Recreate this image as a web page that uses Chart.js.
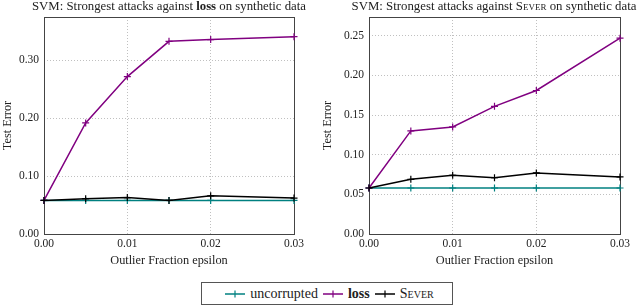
<!DOCTYPE html>
<html>
<head>
<meta charset="utf-8">
<script src="https://cdn.jsdelivr.net/npm/chart.js@4"></script>
<style>
  html, body { margin: 0; padding: 0; background: #fff; }
  body { width: 640px; height: 307px; position: relative; overflow: hidden; font-family: "Liberation Serif", "DejaVu Serif", serif; color: #222; }
  .wrap { position: absolute; top: 0; width: 320px; height: 272px; }
  .title { position: absolute; top: 0px; text-align: center; font-size: 12.8px; line-height: 12px; white-space: nowrap; transform: translateX(-50%); }
  .sc { font-variant: small-caps; }
  #legend { position: absolute; left: 201px; top: 282px; width: 252px; height: 23px; border: 1px solid #555; box-sizing: border-box; display: flex; align-items: center; justify-content: center; font-size: 14px; white-space: nowrap; }
  .item { display: flex; align-items: center; }
  .sw { display: block; margin: 0 5px 0 5px; }
</style>
</head>
<body>
<div class="wrap" style="left:0">
  <div class="title" style="left:169px">SVM: Strongest attacks against <b>loss</b> on synthetic data</div>
  <canvas id="c1" width="320" height="272"></canvas>
</div>
<div class="wrap" style="left:320px">
  <div class="title" style="left:174px">SVM: Strongest attacks against <span class="sc">Sever</span> on synthetic data</div>
  <canvas id="c2" width="320" height="272"></canvas>
</div>
<div id="legend"></div>
<script>
// ---- data ----
const epsilon = [0, 0.005, 0.01, 0.015, 0.02, 0.03];
const xTicks = [0, 0.01, 0.02, 0.03];

// left: attacks against loss
const lossAtk_uncorrupted = [0.058, 0.058, 0.058, 0.058, 0.058, 0.058];
const lossAtk_loss        = [0.058, 0.192, 0.272, 0.333, 0.336, 0.341];
const lossAtk_sever       = [0.058, 0.061, 0.063, 0.058, 0.066, 0.062];
const leftYTicks = [0, 0.1, 0.2, 0.3];
const leftYMax = 0.375;

// right: attacks against Sever
const severAtk_uncorrupted = [0.058, 0.058, 0.058, 0.058, 0.058, 0.058];
const severAtk_loss        = [0.058, 0.130, 0.135, 0.161, 0.181, 0.247];
const severAtk_sever       = [0.058, 0.069, 0.074, 0.071, 0.077, 0.072];
const rightYTicks = [0, 0.05, 0.1, 0.15, 0.2, 0.25];
const rightYMax = 0.2737;

const seriesNames = ['uncorrupted', 'loss', 'Sever'];
const seriesColors = ['#008080', '#800080', '#000000'];

// ---- helpers ----
const FONT = "'Liberation Serif', 'DejaVu Serif', serif";
function pts(ys) { return epsilon.map((x, i) => ({x: x, y: ys[i]})); }

const framePlugin = {
  id: 'frame',
  beforeDatasetsDraw(chart) {
    const a = chart.chartArea, ctx = chart.ctx;
    ctx.save();
    ctx.strokeStyle = '#444';
    ctx.lineWidth = 1;
    ctx.strokeRect(Math.round(a.left) + 0.5, Math.round(a.top) + 0.5, Math.round(a.right - a.left), Math.round(a.bottom - a.top));
    ctx.restore();
  }
};

function makeChart(id, series, yTicks, yMax, yWidth, padRight) {
  const datasets = series.map((ys, i) => ({
    label: seriesNames[i],
    data: pts(ys),
    borderColor: seriesColors[i],
    backgroundColor: seriesColors[i],
    borderWidth: 1.5,
    pointStyle: 'cross',
    pointRadius: 3.5,
    pointBorderWidth: 1.2,
    pointHoverRadius: 3.5,
    tension: 0,
    clip: false,
    order: 3 - i
  }));
  const gridOpts = { color: '#b0b0b0', lineWidth: 0.8, drawTicks: false };
  const borderOpts = { display: false, dash: [1, 2] };
  return new Chart(document.getElementById(id), {
    type: 'line',
    data: { datasets },
    plugins: [framePlugin],
    options: {
      responsive: false,
      animation: false,
      events: [],
      layout: { padding: { top: 17, right: padRight, bottom: 0, left: 0 } },
      plugins: { legend: { display: false }, tooltip: { enabled: false } },
      scales: {
        x: {
          type: 'linear', min: 0, max: 0.03,
          afterBuildTicks: s => { s.ticks = xTicks.map(v => ({value: v})); },
          afterFit: s => { s.height = 38; },
          ticks: { padding: 3, color: '#222', font: { family: FONT, size: 11.5 }, maxRotation: 0,
                   callback: v => v.toFixed(2) },
          grid: gridOpts,
          border: borderOpts,
          title: { display: true, text: 'Outlier Fraction epsilon', color: '#222',
                   font: { family: FONT, size: 12.3 }, padding: { top: 0, bottom: 4 } }
        },
        y: {
          type: 'linear', min: 0, max: yMax,
          afterBuildTicks: s => { s.ticks = yTicks.map(v => ({value: v})); },
          afterFit: s => { s.width = yWidth; },
          ticks: { padding: 5, color: '#222', font: { family: FONT, size: 11.5 },
                   callback: v => v.toFixed(2) },
          grid: gridOpts,
          border: borderOpts,
          title: { display: true, text: 'Test Error', color: '#222',
                   font: { family: FONT, size: 12.3 }, padding: { top: 0, bottom: 0 } }
        }
      }
    }
  });
}

makeChart('c1', [lossAtk_uncorrupted, lossAtk_loss, lossAtk_sever], leftYTicks, leftYMax, 44, 26);
makeChart('c2', [severAtk_uncorrupted, severAtk_loss, severAtk_sever], rightYTicks, rightYMax, 49, 20);

// ---- legend ----
const legend = document.getElementById('legend');
const labelsHtml = ['uncorrupted', '<b>loss</b>', '<span class="sc">Sever</span>'];
seriesNames.forEach((n, i) => {
  const it = document.createElement('span');
  it.className = 'item';
  const c = seriesColors[i];
  it.innerHTML = `<svg class="sw" width="20" height="10" viewBox="0 0 20 10"><line x1="0" y1="5" x2="20" y2="5" stroke="${c}" stroke-width="1.5"/><line x1="10" y1="1.5" x2="10" y2="8.5" stroke="${c}" stroke-width="1.2"/></svg><span>${labelsHtml[i]}</span>`;
  legend.appendChild(it);
});
</script>
</body>
</html>
